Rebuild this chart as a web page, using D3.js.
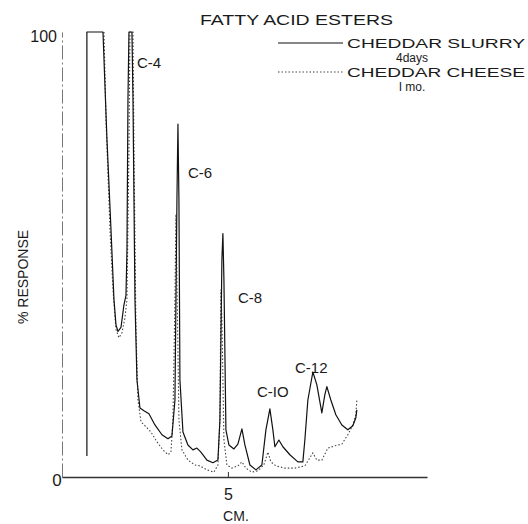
<!DOCTYPE html>
<html>
<head>
<meta charset="utf-8">
<script src="https://cdn.jsdelivr.net/npm/d3@7"></script>
<style>
    body { margin: 0; background: #fff; }
    svg text { font-family: "Liberation Sans", Arial, sans-serif; fill: #1a1a1a; }
</style>
</head>
<body>
<svg id="chart" width="528" height="524"></svg>
<script>
// Cromatograma: distancia (cm) x resposta (%)
const slurryCm = [0.75, 0.75, 1.235, 1.355, 1.476, 1.566, 1.627, 1.687, 1.777, 1.867, 1.928, 1.958, 1.988, 2.018, 2.108, 2.139,
    2.199, 2.259, 2.349, 2.470, 2.620, 2.801, 3.012, 3.193, 3.313, 3.404, 3.464, 3.494, 3.524, 3.554, 3.645, 3.795,
    3.946, 4.066, 4.187, 4.367, 4.548, 4.699, 4.759, 4.819, 4.849, 4.880, 4.940, 5.030, 5.181, 5.301, 5.422, 5.512,
    5.663, 5.843, 6.024, 6.145, 6.265, 6.355, 6.416, 6.536, 6.657, 6.867, 7.108, 7.259, 7.319, 7.410, 7.560, 7.681,
    7.831, 7.922, 7.982, 8.102, 8.253, 8.434, 8.614, 8.765, 8.855, 8.886];
const slurryPct = [4.7, 100, 100, 75.9, 55.6, 39.9, 34.2, 32.7, 33.6, 38.7, 40.8, 51.1, 84.9, 100, 100, 84.9,
    39.9, 21.8, 15.5, 14.9, 14.2, 11.7, 9.5, 8.6, 9.2, 17.3, 62.4, 79.3, 62.4, 21.8, 10.1, 7.2,
    6.1, 6.5, 5.6, 3.8, 3.2, 3.8, 12.8, 48.9, 54.7, 44.4, 10.6, 7.2, 6.3, 7.4, 10.8, 7.2,
    2.7, 1.6, 2.7, 10.6, 15.3, 10.6, 6.8, 8.3, 6.8, 5.0, 3.4, 3.4, 8.3, 17.3, 23.6, 20.7,
    14.4, 18.5, 20.3, 17.3, 14.0, 11.7, 10.6, 11.5, 13.3, 15.1];

const cheeseCm = [1.265, 1.325, 1.446, 1.536, 1.627, 1.717, 1.807, 1.898, 1.958, 2.018, 2.048, 2.139, 2.169, 2.229, 2.289, 2.380,
    2.530, 2.681, 2.861, 3.042, 3.193, 3.283, 3.343, 3.404, 3.434, 3.464, 3.524, 3.614, 3.795, 4.006, 4.157, 4.367,
    4.578, 4.699, 4.759, 4.789, 4.819, 4.880, 4.970, 5.120, 5.301, 5.422, 5.542, 5.723, 5.904, 6.084, 6.205, 6.295,
    6.446, 6.717, 7.018, 7.319, 7.470, 7.560, 7.681, 7.831, 8.012, 8.223, 8.434, 8.614, 8.765, 8.855, 8.886];
const cheesePct = [100, 80.4, 55.6, 42.1, 33.1, 31.3, 32.4, 35.8, 39.9, 73.6, 100, 100, 73.6, 33.1, 17.3, 12.4,
    11.3, 10.1, 7.9, 6.1, 5.0, 5.6, 12.8, 39.9, 59.0, 44.4, 12.8, 6.1, 3.8, 2.7, 2.5, 1.6,
    1.1, 2.7, 12.8, 42.1, 35.4, 8.3, 2.7, 2.0, 2.5, 3.4, 2.0, 1.1, 1.4, 2.7, 5.6, 3.4,
    2.5, 2.0, 2.0, 2.5, 4.3, 5.4, 3.8, 3.8, 6.5, 7.0, 7.4, 9.5, 11.7, 14.0, 17.3];

const xTicks = [5];
const yTicks = [100];
const peakNames = ["C-4", "C-6", "C-8", "C-IO", "C-12"];
const seriesNames = ["CHEDDAR SLURRY", "CHEDDAR CHEESE"];
const seriesSub = ["4days", "I mo."];

// Posições dos rótulos dos picos (px)
const peakLabelPos = [[137, 68], [188, 178], [238, 303], [257, 397], [295, 373]];

const svg = d3.select("#chart");

const x = d3.scaleLinear().domain([0, 11]).range([62, 427]);
const y = d3.scaleLinear().domain([0, 100]).range([477, 32]);

// Eixo Y (tracejado, fraco)
const yAxis = svg.append("g")
    .attr("transform", "translate(62,0)")
    .call(d3.axisLeft(y).tickValues(yTicks).tickSize(0).tickPadding(5).tickFormat(d3.format("d")));
yAxis.select(".domain").attr("stroke", "#777").attr("stroke-width", 1).attr("stroke-dasharray", "14,3,2,3");
yAxis.selectAll("text").attr("font-size", 16).attr("dy", "0.62em").attr("font-family", "Liberation Sans, Arial, sans-serif");

// Eixo X
const xAxis = svg.append("g")
    .attr("transform", "translate(0,477)")
    .call(d3.axisBottom(x).tickValues(xTicks).tickSizeInner(-5).tickSizeOuter(0).tickPadding(12));
xAxis.select(".domain").attr("stroke", "#333").attr("stroke-width", 1.6);
xAxis.selectAll(".tick line").attr("stroke", "#333");
xAxis.selectAll("text").attr("font-size", 16).attr("font-family", "Liberation Sans, Arial, sans-serif");

// Origem "0"
svg.append("text").attr("x", 57).attr("y", 486).attr("text-anchor", "middle")
    .attr("font-size", 17).text("0");

svg.append("text").attr("x", 236).attr("y", 521).attr("text-anchor", "middle")
    .attr("font-size", 14).attr("textLength", 26).text("CM.");

svg.append("text").attr("transform", "translate(28,277) rotate(-90)")
    .attr("text-anchor", "middle").attr("font-size", 14)
    .text("% RESPONSE");

// Curvas
const line = d3.line().x(d => x(d[0])).y(d => y(d[1])).curve(d3.curveLinear);

svg.append("path")
    .datum(d3.zip(cheeseCm, cheesePct))
    .attr("fill", "none").attr("stroke", "#444").attr("stroke-width", 1.1)
    .attr("stroke-dasharray", "1.5,2")
    .attr("d", line);

svg.append("path")
    .datum(d3.zip(slurryCm, slurryPct))
    .attr("fill", "none").attr("stroke", "#111").attr("stroke-width", 1.2)
    .attr("stroke-linejoin", "round")
    .attr("d", line);

// Rótulos dos picos
svg.selectAll(".peak").data(peakNames).enter().append("text")
    .attr("class", "peak")
    .attr("x", (d, i) => peakLabelPos[i][0])
    .attr("y", (d, i) => peakLabelPos[i][1])
    .attr("font-size", 15)
    .text(d => d);

// Título
svg.append("text").attr("x", 200).attr("y", 25).attr("font-size", 15)
    .attr("textLength", 193).attr("lengthAdjust", "spacingAndGlyphs").text("FATTY ACID ESTERS");

// Legenda (linha, nome e subtítulo)
const legendLineY = [43, 72];
const legendTextY = [48, 77];
const legendSubY = [62, 91];
const legendDash = [null, "1.5,2"];
seriesNames.forEach(function (name, i) {
    svg.append("line").attr("x1", 278).attr("x2", 343)
        .attr("y1", legendLineY[i]).attr("y2", legendLineY[i])
        .attr("stroke", i === 0 ? "#111" : "#444").attr("stroke-width", 1.2)
        .attr("stroke-dasharray", legendDash[i]);
    svg.append("text").attr("x", 347).attr("y", legendTextY[i]).attr("font-size", 13)
        .attr("textLength", 178).attr("lengthAdjust", "spacingAndGlyphs").text(name);
    svg.append("text").attr("x", 412).attr("y", legendSubY[i]).attr("font-size", 12)
        .attr("text-anchor", "middle").text(seriesSub[i]);
});
</script>
</body>
</html>
